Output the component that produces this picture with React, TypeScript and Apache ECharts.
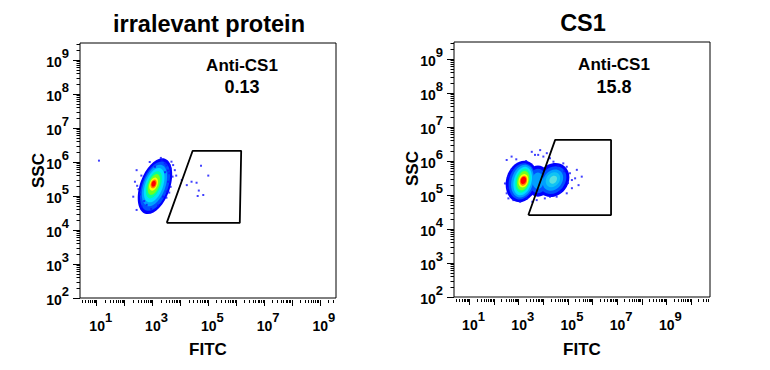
import React, { useEffect, useRef } from "react";
import * as echarts from "echarts";

// ---------- texts ----------
const panelTitles = ["irralevant protein", "CS1"];
const gateName = "Anti-CS1";
const gatePercents = ["0.13", "15.8"];
const xAxisName = "FITC";
const yAxisName = "SSC";

// ---------- axes (values are log10 decades) ----------
const xRangeLeft = [0.4, 9.58];
const xRangeRight = [0.37, 10.77];
const yRange = [2, 9.5];
const xMajorLeft = [1, 2, 3, 4, 5, 6, 7, 8, 9];
const xMajorRight = [1, 2, 3, 4, 5, 6, 7, 8, 9, 10];
const xLabelDecades = [1, 3, 5, 7, 9];
const yMajor = [2, 3, 4, 5, 6, 7, 8, 9];

// ---------- gates [FITC, SSC] in decades ----------
const gateLeft = [[3.51, 4.21], [4.44, 6.33], [6.18, 6.33], [6.13, 4.21]];
const gateRight = [[3.39, 4.41], [4.48, 6.62], [6.75, 6.62], [6.75, 4.41]];

// ---------- density contours: [FITC, SSC, major radius, minor radius (SSC decades), tilt deg, level] ----------
const densityLeft = [
  [3.09, 5.29, 0.86, 0.44, 70, 0],
  [3.09, 5.29, 0.76, 0.38, 70, 1],
  [3.07, 5.31, 0.64, 0.32, 70, 2],
  [3.06, 5.32, 0.53, 0.26, 70, 3],
  [3.05, 5.33, 0.42, 0.2, 70, 4],
  [3.05, 5.34, 0.32, 0.155, 70, 5],
  [3.04, 5.35, 0.2, 0.115, 70, 6],
  [3.04, 5.355, 0.135, 0.085, 70, 7],
  [3.04, 5.36, 0.09, 0.06, 70, 8],
];
const densityRight = [
  [3.12, 5.4, 0.62, 0.46, 75, 0],
  [3.78, 5.41, 0.46, 0.36, 90, 0],
  [4.39, 5.44, 0.53, 0.45, 50, 0],
  [3.13, 5.4, 0.54, 0.38, 75, 1],
  [3.78, 5.41, 0.36, 0.26, 90, 1],
  [4.39, 5.44, 0.44, 0.36, 50, 1],
  [3.15, 5.41, 0.49, 0.32, 75, 2],
  [3.78, 5.42, 0.24, 0.17, 90, 2],
  [4.39, 5.44, 0.34, 0.27, 50, 2],
  [3.16, 5.41, 0.43, 0.26, 75, 3],
  [4.39, 5.45, 0.24, 0.19, 50, 10],
  [3.17, 5.42, 0.36, 0.21, 75, 4],
  [4.4, 5.45, 0.13, 0.1, 50, 9],
  [3.18, 5.42, 0.29, 0.17, 75, 5],
  [3.19, 5.42, 0.2, 0.14, 75, 6],
  [3.19, 5.42, 0.15, 0.105, 75, 7],
  [3.19, 5.43, 0.11, 0.08, 75, 8],
];

// ---------- sparse single events [FITC, SSC] ----------
const eventsLeft = [
  [4.74, 5.89], [5.0, 5.6], [4.23, 5.32], [4.4, 5.42], [4.58, 5.39], [4.66, 5.16],
  [4.82, 5.03], [4.62, 5.0], [4.05, 5.47], [1.08, 6.04],
  [3.68, 6.01], [3.74, 5.91], [3.65, 5.81], [3.8, 5.76], [3.6, 5.67], [3.72, 5.57],
  [3.56, 5.42], [3.65, 5.27], [3.51, 5.13], [3.38, 4.98], [2.43, 5.76], [2.37, 5.42],
  [2.31, 4.98], [2.43, 4.59], [2.61, 4.69], [2.79, 4.74], [3.09, 5.86], [3.33, 6.06],
  [3.44, 5.96], [3.55, 5.75], [3.5, 5.9], [2.5, 5.2], [2.55, 5.05], [2.7, 4.85],
  [3.45, 5.7], [3.3, 6.12], [2.9, 6.0], [2.6, 5.6], [2.45, 5.3], [3.6, 5.1],
  [3.5, 4.95], [2.95, 4.62], [3.2, 4.72], [3.62, 5.9], [3.85, 5.6],
];
const eventsRight = [
  [3.53, 6.27], [3.66, 6.18], [3.87, 6.32], [4.0, 6.13], [4.14, 6.23], [4.27, 6.08],
  [4.41, 5.98], [4.95, 5.83], [5.08, 5.64], [5.16, 5.44], [5.29, 5.49], [5.43, 5.29],
  [5.16, 5.2], [4.95, 5.05], [5.56, 5.54], [5.36, 5.74], [4.81, 5.93], [2.44, 5.34],
  [2.51, 5.05], [2.58, 5.54], [2.71, 5.74], [2.58, 4.9], [2.78, 4.85], [3.06, 4.8],
  [3.33, 4.9], [3.73, 4.85], [4.06, 4.9], [4.27, 4.95], [4.54, 4.95], [2.51, 6.03],
  [2.71, 6.13], [3.79, 6.18], [3.3, 6.0], [2.9, 6.05], [4.6, 5.85], [5.0, 5.35],
  [4.85, 5.7], [2.55, 5.2], [3.55, 4.8], [4.7, 5.1],
];

const densityColors = [
  "#0000ff", "#0050ff", "#00a0ff", "#00e0ff", "#00ffa0",
  "#70ff20", "#ffff00", "#ff8000", "#ff0000", "#58e0e0", "#10c4f4",
];

const FONT = "'Liberation Sans', Arial, Helvetica, sans-serif";

function minorTicks(lo: number, hi: number) {
  const out: number[] = [];
  for (let n = Math.floor(lo); n <= Math.ceil(hi); n++) {
    for (let k = 2; k <= 9; k++) {
      const v = n + Math.log10(k);
      if (v >= lo && v <= hi) out.push(v);
    }
  }
  return out;
}

const richExp = {
  b: { fontSize: 14, fontWeight: "bold", fontFamily: FONT, color: "#000", lineHeight: 27, padding: [8, 0, 5, 0] },
  s: { fontSize: 13, fontWeight: "bold", fontFamily: FONT, color: "#000", lineHeight: 13, verticalAlign: "top" },
};
const expFormatter = (v: number) => `{b|10}{s|${Math.round(v)}}`;

function renderDensity(params: any, api: any) {
  const c = api.coord([api.value(0), api.value(1)]);
  const unit = api.size([1, 1])[1];
  return {
    type: "ellipse",
    x: c[0],
    y: c[1],
    rotation: (api.value(4) * Math.PI) / 180,
    shape: { cx: 0, cy: 0, rx: api.value(2) * unit, ry: api.value(3) * unit },
    style: { fill: densityColors[api.value(5)] },
    silent: true,
  };
}

function buildOption() {
  const grids = [
    { left: 80, top: 43, width: 256, height: 255 },
    { left: 454, top: 42, width: 256, height: 255 },
  ];
  const xRanges = [xRangeLeft, xRangeRight];
  const xMajors = [xMajorLeft, xMajorRight];
  const gates = [gateLeft, gateRight];
  const densities = [densityLeft, densityRight];
  const events = [eventsLeft, eventsRight];

  const xAxis: any[] = [];
  const yAxis: any[] = [];
  const series: any[] = [];
  const graphic: any[] = [];

  grids.forEach((g, i) => {
    const [xmin, xmax] = xRanges[i];
    xAxis.push({
      type: "value", gridIndex: i, position: "bottom", offset: 2, min: xmin, max: xmax,
      axisLine: { show: false }, splitLine: { show: false },
      axisTick: { customValues: xMajors[i], length: 6, lineStyle: { color: "#000", width: 1 } },
      axisLabel: { customValues: xLabelDecades, margin: 11, padding: [0, 0, 0, 8], formatter: expFormatter, rich: richExp },
    });
    xAxis.push({
      type: "value", gridIndex: i, position: "bottom", offset: 2, min: xmin, max: xmax,
      axisLine: { show: false }, splitLine: { show: false },
      axisTick: { customValues: minorTicks(xmin, xmax), length: 3, lineStyle: { color: "#000", width: 1 } },
      axisLabel: { show: false },
    });
    yAxis.push({
      type: "value", gridIndex: i, position: "left", min: yRange[0], max: yRange[1],
      axisLine: { show: false }, splitLine: { show: false },
      axisTick: { customValues: yMajor, length: 7, lineStyle: { color: "#000", width: 1 } },
      axisLabel: { customValues: yMajor, margin: 11, formatter: expFormatter, rich: richExp },
    });
    yAxis.push({
      type: "value", gridIndex: i, position: "left", min: yRange[0], max: yRange[1],
      axisLine: { show: false }, splitLine: { show: false },
      axisTick: { customValues: minorTicks(yRange[0], yRange[1]), length: 3.5, lineStyle: { color: "#000", width: 1 } },
      axisLabel: { show: false },
    });

    series.push({
      type: "custom", xAxisIndex: 2 * i, yAxisIndex: 2 * i, clip: true,
      renderItem: renderDensity, data: densities[i], z: 2,
    });
    series.push({
      type: "scatter", xAxisIndex: 2 * i, yAxisIndex: 2 * i, symbol: "rect", symbolSize: 2,
      itemStyle: { color: "#1010ff" }, data: events[i], z: 3, silent: true,
    });
    series.push({
      type: "line", xAxisIndex: 2 * i, yAxisIndex: 2 * i, symbol: "none", silent: true,
      lineStyle: { color: "#000", width: 1.8 }, data: [...gates[i], gates[i][0]], z: 4,
    });

    const cx = g.left + g.width / 2;
    graphic.push({
      type: "text", x: cx + 1, y: i === 0 ? 24 : 23,
      style: { text: panelTitles[i], fontSize: 23.5, fontWeight: "bold", fontFamily: FONT, fill: "#000",
        align: "center", verticalAlign: "middle", textAlign: "center", textVerticalAlign: "middle" },
    });
    graphic.push({
      type: "text", x: cx, y: 349,
      style: { text: xAxisName, fontSize: 17, fontWeight: "bold", fontFamily: FONT, fill: "#000",
        align: "center", verticalAlign: "middle", textAlign: "center", textVerticalAlign: "middle" },
    });
    graphic.push({
      type: "text", x: i === 0 ? 38 : 412, y: i === 0 ? 170.5 : 168.5, rotation: Math.PI / 2,
      style: { text: yAxisName, fontSize: 17, fontWeight: "bold", fontFamily: FONT, fill: "#000",
        align: "center", verticalAlign: "middle", textAlign: "center", textVerticalAlign: "middle" },
    });
    const ax = i === 0 ? 242 : 614;
    graphic.push({
      type: "text", x: ax, y: i === 0 ? 65 : 64,
      style: { text: gateName, fontSize: 17, fontWeight: "bold", fontFamily: FONT, fill: "#000",
        align: "center", verticalAlign: "middle", textAlign: "center", textVerticalAlign: "middle" },
    });
    graphic.push({
      type: "text", x: ax, y: 87,
      style: { text: gatePercents[i], fontSize: 18, fontWeight: "bold", fontFamily: FONT, fill: "#000",
        align: "center", verticalAlign: "middle", textAlign: "center", textVerticalAlign: "middle" },
    });
  });

  return {
    animation: false,
    backgroundColor: "#fff",
    grid: grids.map((g) => ({ ...g, show: true, borderColor: "#000", borderWidth: 1, backgroundColor: "transparent", containLabel: false })),
    xAxis,
    yAxis,
    series,
    graphic,
  };
}

export default function App() {
  const ref = useRef<HTMLDivElement>(null);
  useEffect(() => {
    if (!ref.current) return;
    const chart = echarts.init(ref.current, undefined, { renderer: "svg" });
    chart.setOption(buildOption() as any);
    return () => chart.dispose();
  }, []);
  return (
    <div
      ref={ref}
      style={{ position: "fixed", left: 0, top: 0, width: 770, height: 370, background: "#fff" }}
    />
  );
}
